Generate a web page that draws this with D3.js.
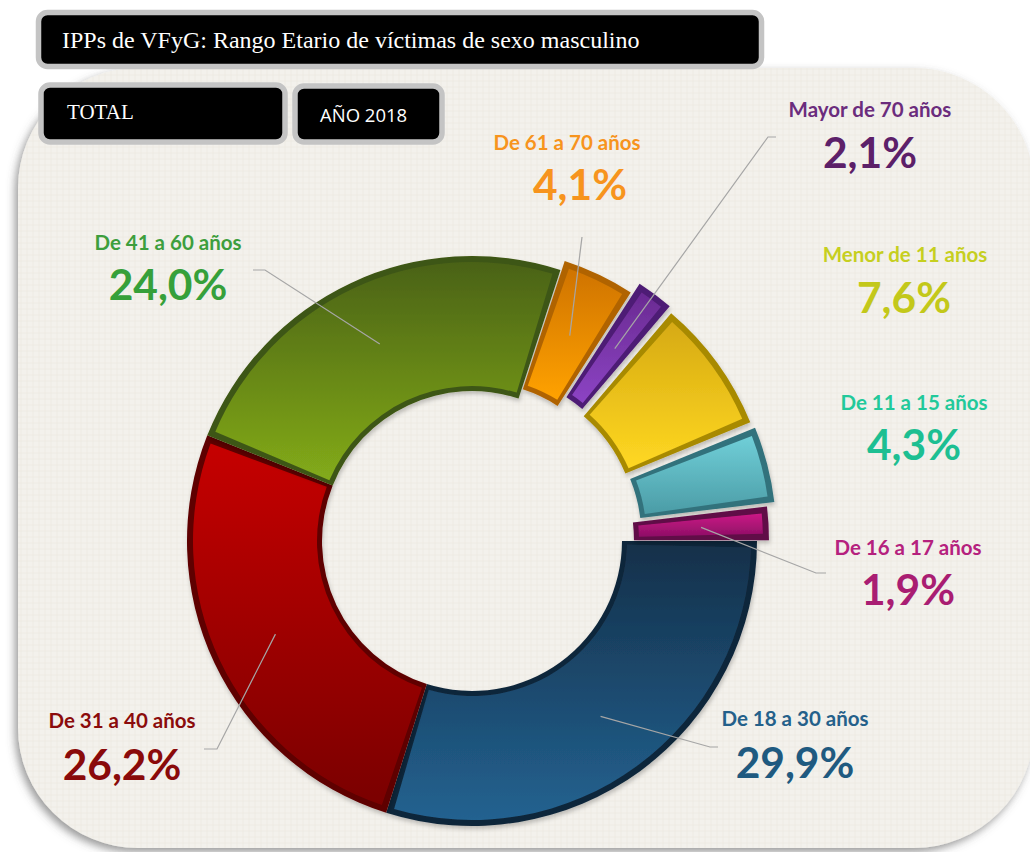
<!DOCTYPE html>
<html><head><meta charset="utf-8">
<script src="https://cdn.jsdelivr.net/npm/d3@7"></script>
<style>body{margin:0;background:#fff} svg{display:block}</style>
</head><body>
<svg id="chart" width="1030" height="852"></svg>
<script>
// ---------- data ----------
const categories = ["De 18 a 30 años","De 31 a 40 años","De 41 a 60 años","De 61 a 70 años","Mayor de 70 años","Menor de 11 años","De 11 a 15 años","De 16 a 17 años"];
const values = [29.9, 26.2, 24.0, 4.1, 2.1, 7.6, 4.3, 1.9];
const valueLabels = ["29,9%","26,2%","24,0%","4,1%","2,1%","7,6%","4,3%","1,9%"];
const titleText = "IPPs de VFyG: Rango Etario de víctimas de sexo masculino";
const subtitleLeft = "TOTAL";
const subtitleRight = "AÑO 2018";

// ---------- styles / layout ----------
const faceTop    = ["#14304a","#c60404","#4a6214","#cf7300","#6a2a92","#d6aa12","#70cfd8","#cc1a86"];
const faceBottom = ["#236290","#7a0000","#83ab1a","#ffa204","#8c44c4","#ffd822","#4b9ca6","#8e0e66"];
const bevelCol   = ["#10263a","#5e0000","#3e5612","#b06400","#4e1c74","#a88a04","#33727c","#600a46"];
const explode    = [0, 0, 0, 10, 22, 18, 20, 12];
const labelCol   = ["#24608a","#8b0b0b","#3d9e3d","#f7941d","#6b2c7d","#c6cf1f","#22c99a","#b5217e"];
const pctCol     = ["#1f5a80","#8a0a0a","#36a03a","#f7941d","#5c2069","#c3c81a","#1dbf92","#a91d72"];
// [label x, label baseline, pct x, pct baseline]
const labelPos = [[795,726,795,778],[122,728,122,780],[168,250,168,300],[567,150,580,200],
                  [870,117,870,168],[905,262,904,313],[914,410,914,460],[908,555,908,605]];
// leader line: [elbow x, elbow y, end x, end y] or null
const leaders = [[710,747,718,747],[217,749,204,749],[265,270,253,270],[582,237,582,237],
                 [768,137,776,137],null,null,[816,573,826,573]];

const W = 1030, H = 852;
const cx = 472, cy = 541, R0 = 150, R1 = 285;

const svg = d3.select("#chart");
const defs = svg.append("defs");

// background texture
const pat = defs.append("pattern").attr("id","tex").attr("width",6).attr("height",6)
  .attr("patternUnits","userSpaceOnUse");
pat.append("rect").attr("width",6).attr("height",6).attr("fill","#f3f1ec");
pat.append("path").attr("d","M0,3H6M3,0V6").attr("stroke","#ece9e1").attr("stroke-width",0.8);

const sh = defs.append("filter").attr("id","cardShadow").attr("x","-10%").attr("y","-10%").attr("width","120%").attr("height","120%");
sh.append("feDropShadow").attr("dx",-3).attr("dy",4).attr("stdDeviation",4).attr("flood-color","#555").attr("flood-opacity",0.6);

const sh2 = defs.append("filter").attr("id","sliceShadow").attr("x","-20%").attr("y","-20%").attr("width","140%").attr("height","140%");
sh2.append("feDropShadow").attr("dx",1).attr("dy",3).attr("stdDeviation",2).attr("flood-color","#000").attr("flood-opacity",0.22);

// card
svg.append("rect").attr("x",18).attr("y",68).attr("width",1016).attr("height",780)
  .attr("rx",120).attr("ry",120).attr("fill","url(#tex)").attr("filter","url(#cardShadow)");

// header boxes
function box(x,y,w,h){
  svg.append("rect").attr("x",x).attr("y",y).attr("width",w).attr("height",h)
    .attr("rx",9).attr("fill","#000").attr("stroke","#c4c4c4").attr("stroke-width",5.5);
}
box(38.5,12.5,723,54);
box(41,85,244,57);
box(295,86,147,56);
svg.append("text").attr("x",62).attr("y",48).attr("fill","#fff")
  .attr("font-family","Liberation Serif, Times New Roman, serif").attr("font-size",24).text(titleText);
svg.append("text").attr("x",67).attr("y",119).attr("fill","#fff")
  .attr("font-family","Liberation Serif, Times New Roman, serif").attr("font-size",21).text(subtitleLeft);
svg.append("text").attr("x",320).attr("y",122).attr("fill","#fff")
  .attr("font-family","Open Sans, Lato, sans-serif").attr("font-size",18.5).text(subtitleRight);

// gradients
values.forEach((v,i)=>{
  const g = defs.append("linearGradient").attr("id","g"+i).attr("x1",0).attr("y1",0).attr("x2",0).attr("y2",1);
  g.append("stop").attr("offset","0%").attr("stop-color",faceTop[i]);
  g.append("stop").attr("offset","100%").attr("stop-color",faceBottom[i]);
});

// donut
const pie = d3.pie().sort(null).value(d=>d).startAngle(Math.PI/2).endAngle(Math.PI/2 + 2*Math.PI);
const arcs = pie(values);
const outerArc = d3.arc().innerRadius(R0).outerRadius(R1);
const ins = 5/((R0+R1)/2);
const faceArc = d3.arc().innerRadius(R0+5).outerRadius(R1-6)
  .startAngle(d=>d.startAngle+ins).endAngle(d=>d.endAngle-ins);
const mid = d => (d.startAngle+d.endAngle)/2;

const gDonut = svg.append("g").attr("transform",`translate(${cx},${cy})`);
const sl = gDonut.selectAll("g.slice").data(arcs).join("g").attr("class","slice")
  .attr("transform",(d,i)=>`translate(${explode[i]*Math.sin(mid(d))},${-explode[i]*Math.cos(mid(d))})`)
  .attr("filter","url(#sliceShadow)");
sl.append("path").attr("d",outerArc).attr("fill",(d,i)=>bevelCol[i]);
sl.append("path").attr("d",faceArc).attr("fill",(d,i)=>`url(#g${i})`);

// leader lines
const gLines = svg.append("g").attr("fill","none").attr("stroke","#a6a6a6").attr("stroke-width",1.2);
arcs.forEach((d,i)=>{
  if(!leaders[i]) return;
  const c = outerArc.centroid(d);
  const m = mid(d);
  const px = cx + c[0] + explode[i]*Math.sin(m), py = cy + c[1] - explode[i]*Math.cos(m);
  const L = leaders[i];
  gLines.append("path").attr("d",`M${px},${py}L${L[0]},${L[1]}L${L[2]},${L[3]}`);
});

// labels
const gLab = svg.append("g").attr("font-family","Lato, Open Sans, sans-serif").attr("font-weight","bold").attr("text-anchor","middle");
categories.forEach((c,i)=>{
  const p = labelPos[i];
  gLab.append("text").attr("x",p[0]).attr("y",p[1]).attr("fill",labelCol[i]).attr("font-size",20.5).text(c);
  gLab.append("text").attr("x",p[2]).attr("y",p[3]).attr("fill",pctCol[i]).attr("font-size",42.5).text(valueLabels[i]);
});
</script>
</body></html>
